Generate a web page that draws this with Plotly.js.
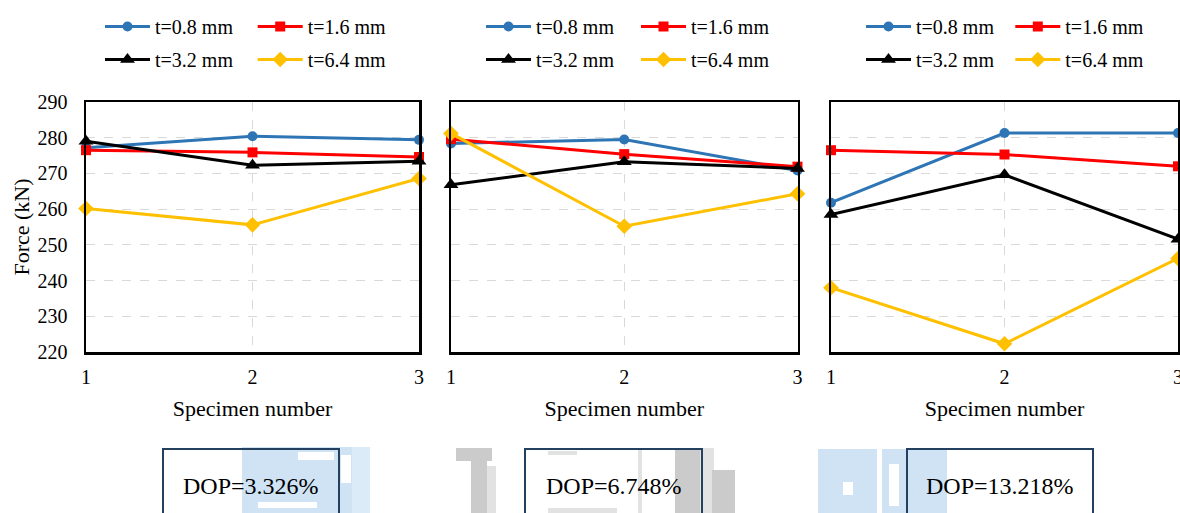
<!DOCTYPE html>
<html>
<head>
<meta charset="utf-8">
<script src="https://cdn.plot.ly/plotly-3.0.1.min.js"></script>
<style>
  html, body { margin: 0; padding: 0; background: #ffffff; }
  #chart { width: 1180px; height: 513px; }
</style>
</head>
<body>
<div id="chart"></div>
<script>
// Specimen numbers along the x axis
const specimens = [1, 2, 3];
const seriesNames = ['t=0.8 mm', 't=1.6 mm', 't=3.2 mm', 't=6.4 mm'];
const yTickValues = [220, 230, 240, 250, 260, 270, 280, 290];

// Peak force (kN), panel with DOP = 3.326%
const forceA_t08 = [277.2, 280.4, 279.4];
const forceA_t16 = [276.5, 275.9, 274.6];
const forceA_t32 = [279.0, 272.3, 273.4];
const forceA_t64 = [260.2, 255.6, 268.6];

// Peak force (kN), panel with DOP = 6.748%
const forceB_t08 = [278.4, 279.5, 270.8];
const forceB_t16 = [279.6, 275.4, 271.9];
const forceB_t32 = [266.8, 273.3, 271.4];
const forceB_t64 = [281.2, 255.2, 264.3];

// Peak force (kN), panel with DOP = 13.218%
const forceC_t08 = [261.8, 281.3, 281.3];
const forceC_t16 = [276.5, 275.3, 272.0];
const forceC_t32 = [258.5, 269.6, 251.6];
const forceC_t64 = [238.0, 222.3, 246.2];

const dopLabels = ['DOP=3.326%', 'DOP=6.748%', 'DOP=13.218%'];

// ---- styling ----
const FONT = 'Liberation Serif, Times New Roman, serif';
const colors = ['#2E75B6', '#FF0000', '#000000', '#FFC000'];
const symbols = ['circle', 'square', 'triangle-up', 'diamond'];
const markerSizes = [10, 10, 13, 12];

const W = 1180, H = 513;
const M = { l: 86, r: 2, t: 102, b: 161 };
const PW = W - M.l - M.r, PH = H - M.t - M.b;
const px2x = p => (p - M.l) / PW;
const px2y = p => (H - M.b - p) / PH;

// plot-area spans of the three panels (pixels)
const panelSpans = [[86, 419], [451, 797.5], [831, 1178]];
// legend placement per panel: first line start, column spacing
const legendStarts = [105, 486, 866];
const legendCols = [152.7, 155, 149.3];
const legendRowsY = [26.5, 59.5];

const panels = [
  [forceA_t08, forceA_t16, forceA_t32, forceA_t64],
  [forceB_t08, forceB_t16, forceB_t32, forceB_t64],
  [forceC_t08, forceC_t16, forceC_t32, forceC_t64]
];

const traces = [];
const layout = {
  width: W, height: H,
  margin: M,
  paper_bgcolor: '#ffffff',
  plot_bgcolor: 'rgba(0,0,0,0)',
  font: { family: FONT, color: '#000000', size: 20 },
  showlegend: true,
  shapes: [],
  annotations: []
};

panels.forEach((series, pi) => {
  const sfx = pi === 0 ? '' : String(pi + 1);
  series.forEach((vals, si) => {
    const legId = 2 * pi + (si < 2 ? 1 : 2);
    traces.push({
      type: 'scatter',
      mode: 'lines+markers',
      x: specimens,
      y: vals,
      name: seriesNames[si],
      xaxis: 'x' + sfx,
      yaxis: 'y' + sfx,
      legend: legId === 1 ? 'legend' : 'legend' + legId,
      cliponaxis: false,
      line: { color: colors[si], width: 3 },
      marker: { color: colors[si], symbol: symbols[si], size: markerSizes[si] },
      hoverinfo: 'x+y+name'
    });
  });

  const dom = [px2x(panelSpans[pi][0]), Math.min(1, px2x(panelSpans[pi][1]))];
  layout['xaxis' + sfx] = {
    domain: dom,
    anchor: 'y' + sfx,
    range: [1, 3],
    tickvals: specimens,
    showgrid: true,
    gridcolor: '#d9d9d9',
    griddash: 'dash',
    gridwidth: 1,
    showline: true,
    mirror: true,
    linecolor: '#000000',
    linewidth: 2.5,
    zeroline: false,
    ticks: '',
    ticklabelstandoff: 5,
    ticklabeloverflow: 'allow',
    tickfont: { family: FONT, size: 20, color: '#000000' },
    title: { text: 'Specimen number', font: { family: FONT, size: 22, color: '#000000' }, standoff: 14 },
    automargin: false,
    fixedrange: true
  };
  layout['yaxis' + sfx] = {
    domain: [0, 1],
    anchor: 'x' + sfx,
    range: [220, 290],
    tickvals: yTickValues,
    showticklabels: pi === 0,
    showgrid: true,
    gridcolor: '#d9d9d9',
    griddash: 'dash',
    gridwidth: 1,
    showline: true,
    mirror: true,
    linecolor: '#000000',
    linewidth: 2.5,
    zeroline: false,
    ticks: '',
    ticklabelstandoff: 12,
    tickfont: { family: FONT, size: 20, color: '#000000' },
    title: pi === 0
      ? { text: 'Force (kN)', font: { family: FONT, size: 22, color: '#000000' }, standoff: 2 }
      : { text: '' },
    automargin: false,
    fixedrange: true
  };

  // two single-row legends per panel
  legendRowsY.forEach((ry, ri) => {
    const legId = 2 * pi + ri + 1;
    layout[legId === 1 ? 'legend' : 'legend' + legId] = {
      orientation: 'h',
      xref: 'container', yref: 'container',
      x: (legendStarts[pi] - 5) / W,
      y: 1 - ry / H,
      xanchor: 'left', yanchor: 'middle',
      bgcolor: 'rgba(0,0,0,0)',
      borderwidth: 0,
      itemwidth: 45,
      entrywidth: legendCols[pi] - 60,
      traceorder: 'normal',
      font: { family: FONT, size: 20, color: '#000000' }
    };
  });
});

// faint background fragments behind the DOP boxes
const fragBlue = '#cfe3f5', fragGray = '#cbcbcb', fragGrayLight = '#e2e2e2';
const fragments = [
  // behind the first box
  { c: fragBlue, x0: 242, x1: 352, y0: 447, y1: 520 },
  { c: '#dcebf8', x0: 352, x1: 370, y0: 447, y1: 520 },
  { c: '#ffffff', x0: 298, x1: 334, y0: 452, y1: 460 },
  { c: '#ffffff', x0: 341, x1: 351, y0: 455, y1: 483 },
  { c: '#ffffff', x0: 258, x1: 317, y0: 502, y1: 508 },
  // around the second box
  { c: fragGray, x0: 456, x1: 492, y0: 448, y1: 461 },
  { c: fragGray, x0: 471, x1: 487, y0: 461, y1: 520 },
  { c: fragGrayLight, x0: 487, x1: 496, y0: 466, y1: 520 },
  { c: fragGrayLight, x0: 548, x1: 577, y0: 451, y1: 455 },
  { c: fragGrayLight, x0: 548, x1: 617, y0: 508, y1: 520 },
  { c: fragGrayLight, x0: 638, x1: 642, y0: 450, y1: 520 },
  { c: fragGray, x0: 675, x1: 700, y0: 448, y1: 520 },
  { c: fragGrayLight, x0: 700, x1: 714, y0: 448, y1: 520 },
  { c: fragGray, x0: 712, x1: 735, y0: 470, y1: 520 },
  // behind the third box
  { c: fragBlue, x0: 818, x1: 877, y0: 449, y1: 520 },
  { c: fragBlue, x0: 882, x1: 947, y0: 449, y1: 520 },
  { c: '#ffffff', x0: 843, x1: 853, y0: 482, y1: 495 },
  { c: '#ffffff', x0: 889, x1: 899, y0: 464, y1: 506 }
];
fragments.forEach(f => {
  layout.shapes.push({
    type: 'rect', xref: 'paper', yref: 'paper', layer: 'below',
    x0: px2x(f.x0), x1: px2x(f.x1), y0: px2y(f.y1), y1: px2y(f.y0),
    fillcolor: f.c, line: { width: 0 }
  });
});

// DOP boxes under each panel
const dopBoxes = [[163, 339], [525, 702], [907, 1093]];
dopBoxes.forEach((b, i) => {
  layout.shapes.push({
    type: 'rect', xref: 'paper', yref: 'paper', layer: 'above',
    x0: px2x(b[0]), x1: px2x(b[1]), y0: px2y(530), y1: px2y(449),
    fillcolor: 'rgba(0,0,0,0)', line: { color: '#24405f', width: 2 }
  });
  layout.annotations.push({
    xref: 'paper', yref: 'paper',
    x: px2x((b[0] + b[1]) / 2), y: px2y(486),
    xanchor: 'center', yanchor: 'middle',
    text: dopLabels[i], showarrow: false,
    font: { family: FONT, size: 24, color: '#000000' }
  });
});

Plotly.newPlot('chart', traces, layout, { displayModeBar: false, staticPlot: true });
</script>
</body>
</html>
